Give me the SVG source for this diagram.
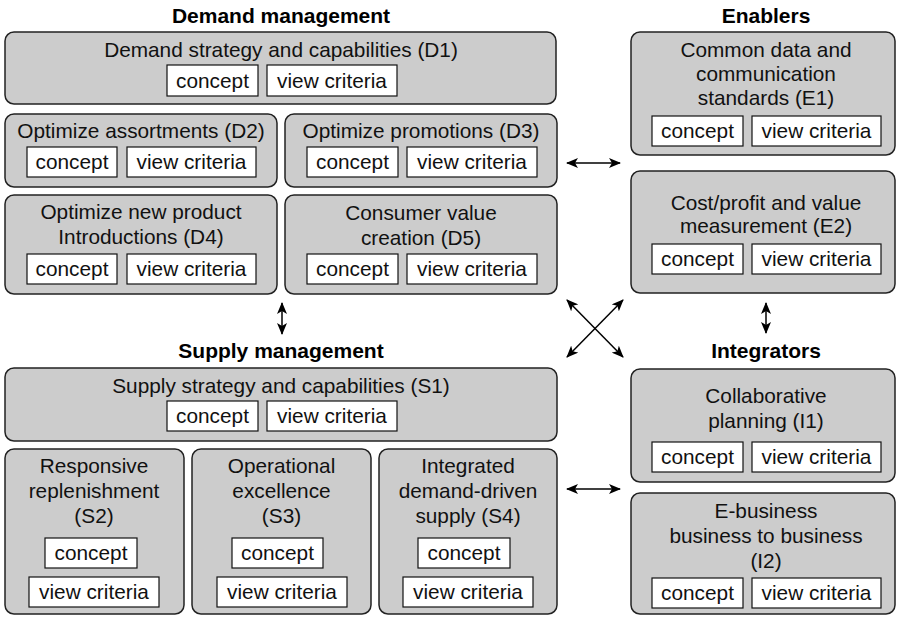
<svg xmlns="http://www.w3.org/2000/svg" width="897" height="617" viewBox="0 0 897 617">
<style>
.box{fill:#cccccc;stroke:#222;stroke-width:1.5}
.in{fill:#fff;stroke:#111;stroke-width:1.2}
.t{font-family:"Liberation Sans",Arial,sans-serif;font-size:20.8px;text-anchor:middle;fill:#111}
.h{font-family:"Liberation Sans",Arial,sans-serif;font-size:21px;font-weight:bold;text-anchor:middle;fill:#000}
.c{stroke:#000;stroke-width:1.5;fill:none;marker-start:url(#ah);marker-end:url(#ah)}
</style>
<defs>
<marker id="ah" viewBox="0 0 12 10" refX="11" refY="5" markerWidth="12" markerHeight="10" markerUnits="userSpaceOnUse" orient="auto-start-reverse">
<path d="M0,0 L12,5 L0,10 L3,5 z" fill="#000"/>
</marker>
</defs>
<rect width="897" height="617" fill="#fff"/>

<text class="h" x="281" y="23">Demand management</text>
<text class="h" x="766" y="23">Enablers</text>
<text class="h" x="281" y="358">Supply management</text>
<text class="h" x="766" y="358">Integrators</text>

<g id="D1">
<rect class="box" x="5" y="32" width="551" height="72" rx="9"/>
<text class="t" x="281" y="57">Demand strategy and capabilities (D1)</text>
<rect class="in" x="167" y="65" width="91" height="31"/><text class="t" x="212.5" y="88">concept</text>
<rect class="in" x="267" y="65" width="130" height="31"/><text class="t" x="332" y="88">view criteria</text>
</g>
<g id="D2">
<rect class="box" x="5" y="114" width="272" height="73" rx="9"/>
<text class="t" x="141" y="138">Optimize assortments (D2)</text>
<rect class="in" x="27" y="147" width="90" height="30"/><text class="t" x="72" y="169">concept</text>
<rect class="in" x="127" y="147" width="129" height="30"/><text class="t" x="191.5" y="169">view criteria</text>
</g>
<g id="D3">
<rect class="box" x="285" y="114" width="272" height="73" rx="9"/>
<text class="t" x="421" y="138">Optimize promotions (D3)</text>
<rect class="in" x="307" y="147" width="91" height="30"/><text class="t" x="352.5" y="169">concept</text>
<rect class="in" x="407" y="147" width="130" height="30"/><text class="t" x="472" y="169">view criteria</text>
</g>
<g id="D4">
<rect class="box" x="5" y="195" width="272" height="99" rx="9"/>
<text class="t" x="141" y="219">Optimize new product</text>
<text class="t" x="141" y="244">Introductions (D4)</text>
<rect class="in" x="27" y="254" width="90" height="30"/><text class="t" x="72" y="276">concept</text>
<rect class="in" x="127" y="254" width="129" height="30"/><text class="t" x="191.5" y="276">view criteria</text>
</g>
<g id="D5">
<rect class="box" x="285" y="195" width="272" height="99" rx="9"/>
<text class="t" x="421" y="220">Consumer value</text>
<text class="t" x="421" y="245">creation (D5)</text>
<rect class="in" x="307" y="254" width="91" height="30"/><text class="t" x="352.5" y="276">concept</text>
<rect class="in" x="407" y="254" width="130" height="30"/><text class="t" x="472" y="276">view criteria</text>
</g>

<g id="S1">
<rect class="box" x="5" y="368" width="552" height="73" rx="9"/>
<text class="t" x="281" y="393">Supply strategy and capabilities (S1)</text>
<rect class="in" x="167" y="401" width="91" height="30"/><text class="t" x="212.5" y="423">concept</text>
<rect class="in" x="267" y="401" width="130" height="30"/><text class="t" x="332" y="423">view criteria</text>
</g>
<g id="S2">
<rect class="box" x="5" y="449" width="179" height="165" rx="9"/>
<text class="t" x="94" y="473">Responsive</text>
<text class="t" x="94" y="498">replenishment</text>
<text class="t" x="94" y="523">(S2)</text>
<rect class="in" x="45" y="538" width="92" height="30"/><text class="t" x="91" y="560">concept</text>
<rect class="in" x="29" y="577" width="130" height="30"/><text class="t" x="94" y="599">view criteria</text>
</g>
<g id="S3">
<rect class="box" x="192" y="449" width="179" height="165" rx="9"/>
<text class="t" x="281.5" y="473">Operational</text>
<text class="t" x="281.5" y="498">excellence</text>
<text class="t" x="281.5" y="523">(S3)</text>
<rect class="in" x="232" y="538" width="91" height="30"/><text class="t" x="277.5" y="560">concept</text>
<rect class="in" x="217" y="577" width="130" height="30"/><text class="t" x="282" y="599">view criteria</text>
</g>
<g id="S4">
<rect class="box" x="379" y="449" width="178" height="165" rx="9"/>
<text class="t" x="468" y="473">Integrated</text>
<text class="t" x="468" y="498">demand-driven</text>
<text class="t" x="468" y="523">supply (S4)</text>
<rect class="in" x="418" y="538" width="92" height="30"/><text class="t" x="464" y="560">concept</text>
<rect class="in" x="403" y="577" width="130" height="30"/><text class="t" x="468" y="599">view criteria</text>
</g>

<g id="E1">
<rect class="box" x="631" y="32" width="264" height="123" rx="9"/>
<text class="t" x="766" y="57">Common data and</text>
<text class="t" x="766" y="81">communication</text>
<text class="t" x="766" y="105">standards (E1)</text>
<rect class="in" x="652" y="116" width="91" height="30"/><text class="t" x="697.5" y="138">concept</text>
<rect class="in" x="752" y="116" width="129" height="30"/><text class="t" x="816.5" y="138">view criteria</text>
</g>
<g id="E2">
<rect class="box" x="631" y="171" width="264" height="122" rx="9"/>
<text class="t" x="766" y="210">Cost/profit and value</text>
<text class="t" x="766" y="233">measurement (E2)</text>
<rect class="in" x="652" y="244" width="91" height="30"/><text class="t" x="697.5" y="266">concept</text>
<rect class="in" x="752" y="244" width="129" height="30"/><text class="t" x="816.5" y="266">view criteria</text>
</g>
<g id="I1">
<rect class="box" x="631" y="369" width="264" height="113" rx="9"/>
<text class="t" x="766" y="403">Collaborative</text>
<text class="t" x="766" y="428">planning (I1)</text>
<rect class="in" x="652" y="442" width="91" height="30"/><text class="t" x="697.5" y="464">concept</text>
<rect class="in" x="752" y="442" width="129" height="30"/><text class="t" x="816.5" y="464">view criteria</text>
</g>
<g id="I2">
<rect class="box" x="631" y="493" width="264" height="121" rx="9"/>
<text class="t" x="766" y="518">E-business</text>
<text class="t" x="766" y="543">business to business</text>
<text class="t" x="766" y="568">(I2)</text>
<rect class="in" x="652" y="578" width="91" height="30"/><text class="t" x="697.5" y="600">concept</text>
<rect class="in" x="752" y="578" width="129" height="30"/><text class="t" x="816.5" y="600">view criteria</text>
</g>

<g id="connectors">
<line class="c" x1="567" y1="163" x2="620" y2="163"/>
<line class="c" x1="282" y1="303" x2="282" y2="334"/>
<line class="c" x1="766" y1="303" x2="766" y2="333"/>
<line class="c" x1="567" y1="300" x2="623" y2="357"/>
<line class="c" x1="623" y1="300" x2="567" y2="357"/>
<line class="c" x1="567" y1="489" x2="620" y2="489"/>
</g>
</svg>
